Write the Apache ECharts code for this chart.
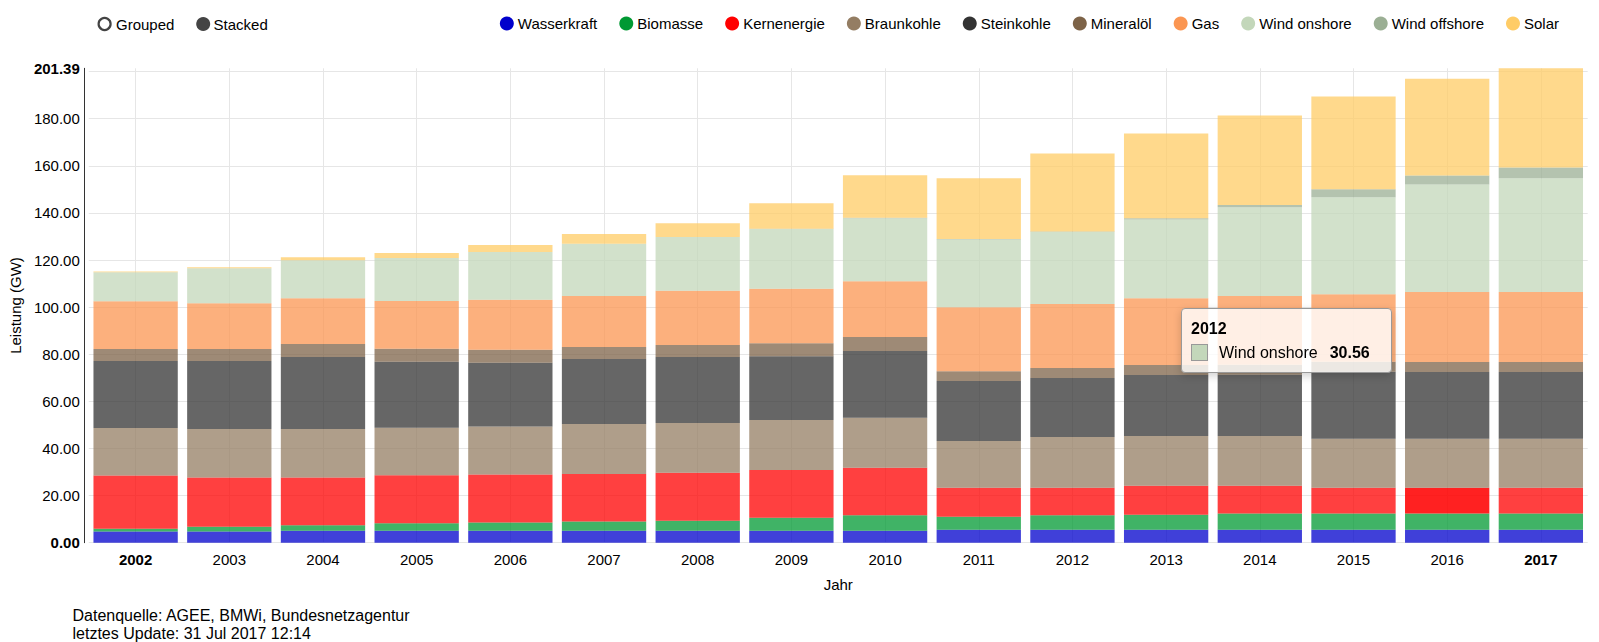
<!DOCTYPE html>
<html>
<head>
<meta charset="utf-8">
<script src="https://cdn.jsdelivr.net/npm/echarts@6/dist/echarts.min.js"></script>
<style>
html,body{margin:0;padding:0;background:#fff;}
#c{width:1599px;height:642px;}
</style>
</head>
<body>
<div id="c"></div>
<script>
// ---- data (GW) ----
const years = ['2002','2003','2004','2005','2006','2007','2008','2009','2010','2011','2012','2013','2014','2015','2016','2017'];
const wasserkraft  = [4.8, 4.8, 5.1, 5.1, 5.1, 5.1, 5.1, 5.1, 5.1, 5.5, 5.5, 5.5, 5.5, 5.5, 5.5, 5.5];
const biomasse     = [1.1, 2.0, 2.3, 3.2, 3.5, 3.9, 4.2, 5.5, 6.5, 5.5, 6.1, 6.4, 6.9, 6.9, 6.9, 6.9];
const kernenergie  = [22.6, 20.9, 20.3, 20.3, 20.4, 20.2, 20.4, 20.3, 20.2, 12.3, 11.7, 12.3, 11.8, 10.9, 10.9, 10.9];
const braunkohle   = [20.2, 20.6, 20.6, 20.2, 20.3, 21.2, 21.1, 21.2, 21.2, 19.9, 21.6, 21.1, 21.1, 20.8, 20.8, 20.8];
const steinkohle   = [28.4, 28.8, 30.5, 28.0, 27.1, 27.6, 28.0, 27.1, 28.4, 25.4, 25.0, 25.9, 26.0, 28.5, 28.4, 28.4];
const mineraloel   = [5.1, 5.1, 5.5, 5.5, 5.5, 5.1, 5.1, 5.5, 5.9, 4.2, 4.3, 4.2, 4.2, 4.2, 4.2, 4.2];
const gas          = [20.3, 19.5, 19.5, 20.3, 21.2, 21.6, 23.1, 23.1, 23.7, 27.1, 27.1, 28.4, 29.2, 28.7, 29.7, 29.7];
const windOnshore  = [12.3, 14.8, 16.1, 18.3, 20.3, 22.2, 22.8, 25.4, 26.7, 28.8, 30.56, 33.4, 37.7, 41.1, 45.7, 48.3];
const windOffshore = [0, 0, 0, 0, 0, 0, 0, 0.1, 0.2, 0.2, 0.3, 0.5, 1.0, 3.4, 3.8, 4.6];
const solar        = [0.3, 0.4, 1.3, 2.1, 3.0, 4.2, 5.8, 10.8, 18.1, 25.8, 33.1, 36.0, 38.0, 39.4, 41.1, 42.09];

const seriesNames = ['Wasserkraft','Biomasse','Kernenergie','Braunkohle','Steinkohle','Mineralöl','Gas','Wind onshore','Wind offshore','Solar'];
const seriesValues = [wasserkraft, biomasse, kernenergie, braunkohle, steinkohle, mineraloel, gas, windOnshore, windOffshore, solar];

const footer1 = 'Datenquelle: AGEE, BMWi, Bundesnetzagentur';
const footer2 = 'letztes Update: 31 Jul 2017 12:14';

// ---- styling ----
const colors = ['#0000cc','#009933','#ff0000','#947d63','#333333','#7d6348','#fb9652','#c3d7ba','#9baf94','#ffcc66'];
const FF = '"Liberation Sans", Arial, Helvetica, sans-serif';
const highlight = {series: 2, index: 14};   // hovered bar in the reference
const tipSeries = 7, tipIndex = 10;          // tooltip shown in the reference

const totals = years.map((_, j) => seriesValues.reduce((s, arr) => s + arr[j], 0));
const yMax = Math.round(Math.max(...totals) * 100) / 100;

const series = seriesNames.map((n, i) => ({
  name: n,
  type: 'bar',
  stack: 'total',
  barCategoryGap: '10%',
  itemStyle: {color: colors[i], opacity: 0.75},
  emphasis: {disabled: true},
  data: seriesValues[i].map((v, j) =>
    (i === highlight.series && j === highlight.index) ? {value: v, itemStyle: {opacity: 0.87}} : v)
}));

const chart = echarts.init(document.getElementById('c'), null, {renderer: 'svg'});
chart.setOption({
  animation: false,
  textStyle: {fontFamily: FF, color: '#000'},
  grid: {left: 77.3, right: 11.3, top: 68.3, bottom: 99.3},
  legend: {
    data: seriesNames,
    right: 35, top: 11,
    icon: 'circle', itemWidth: 14, itemHeight: 14, itemGap: 22,
    itemStyle: {opacity: 1},
    textStyle: {fontSize: 15, color: '#000', fontFamily: FF, padding: [0, 0, 0, -1]},
    selectedMode: false
  },
  tooltip: {
    trigger: 'item', triggerOn: 'none', alwaysShowContent: true, transitionDuration: 0,
    padding: 0, borderWidth: 0, backgroundColor: 'transparent',
    extraCssText: 'box-shadow:none;border-radius:0;',
    position: [1181, 308],
    formatter: p => '<div style="box-sizing:border-box;width:211px;height:65px;border:1px solid #999;border-radius:4px;' +
      'background:rgba(255,255,255,0.8);box-shadow:0 3px 8px rgba(0,0,0,0.18);padding:10px 9px 0 9px;' +
      'font-family:' + FF.replace(/"/g, "'") + ';color:#000;">' +
      '<div style="font-weight:bold;font-size:16px;line-height:20px;">' + p.name + '</div>' +
      '<div style="margin-top:4px;font-size:16px;line-height:20px;white-space:nowrap;">' +
      '<span style="display:inline-block;box-sizing:border-box;width:17px;height:17px;border:1px solid #999;background:' + p.color +
      ';vertical-align:-3px;margin-right:11px;"></span>' + p.seriesName +
      '<b style="margin-left:12px;">' + Number(p.value).toFixed(2) + '</b></div></div>'
  },
  xAxis: {
    type: 'category',
    data: years,
    axisLine: {show: false},
    axisTick: {show: false},
    axisLabel: {
      interval: 0, margin: 9, fontSize: 15, color: '#000', fontFamily: FF,
      formatter: (v, i) => (i === 0 || i === years.length - 1) ? '{b|' + v + '}' : v,
      rich: {b: {fontWeight: 'bold', fontSize: 15, color: '#000', fontFamily: FF}}
    },
    splitLine: {show: true, alignWithLabel: true, lineStyle: {color: '#e6e6e6', width: 1}},
    name: 'Jahr', nameLocation: 'middle', nameGap: 34,
    nameTextStyle: {fontSize: 15, color: '#000', fontFamily: FF}
  },
  yAxis: {
    type: 'value', min: 0, max: yMax, interval: 20, offset: 5,
    axisLine: {show: true, lineStyle: {color: '#333', width: 1}},
    axisTick: {show: false},
    axisLabel: {
      margin: 4, fontSize: 15, color: '#000', fontFamily: FF,
      formatter: v => {
        if (v === 0) return '{b|0.00}';
        if (Math.abs(v - yMax) < 1e-6) return '{b|' + v.toFixed(2) + '}';
        if (v > yMax - 5) return '';
        return v.toFixed(2);
      },
      rich: {b: {fontWeight: 'bold', fontSize: 15, color: '#000', fontFamily: FF}}
    },
    splitLine: {show: true, showMaxLine: false, lineStyle: {color: '#e6e6e6', width: 1}},
    name: 'Leistung (GW)', nameLocation: 'middle', nameGap: 59,
    nameTextStyle: {fontSize: 15, color: '#000', fontFamily: FF}
  },
  graphic: [
    {type: 'circle', shape: {cx: 104.6, cy: 24, r: 6}, style: {fill: '#fff', stroke: '#444', lineWidth: 2.2}},
    {type: 'text', x: 116, y: 24, style: {text: 'Grouped', font: '15px ' + FF, fill: '#000', verticalAlign: 'middle'}},
    {type: 'circle', shape: {cx: 203.2, cy: 24, r: 7}, style: {fill: '#444'}},
    {type: 'text', x: 213.6, y: 24, style: {text: 'Stacked', font: '15px ' + FF, fill: '#000', verticalAlign: 'middle'}},
    {type: 'text', x: 72.5, y: 615, style: {text: footer1, font: '16px ' + FF, fill: '#000', verticalAlign: 'middle'}},
    {type: 'text', x: 72.5, y: 633, style: {text: footer2, font: '16px ' + FF, fill: '#000', verticalAlign: 'middle'}}
  ],
  series: series
});
chart.dispatchAction({type: 'showTip', seriesIndex: tipSeries, dataIndex: tipIndex});
</script>
</body>
</html>
